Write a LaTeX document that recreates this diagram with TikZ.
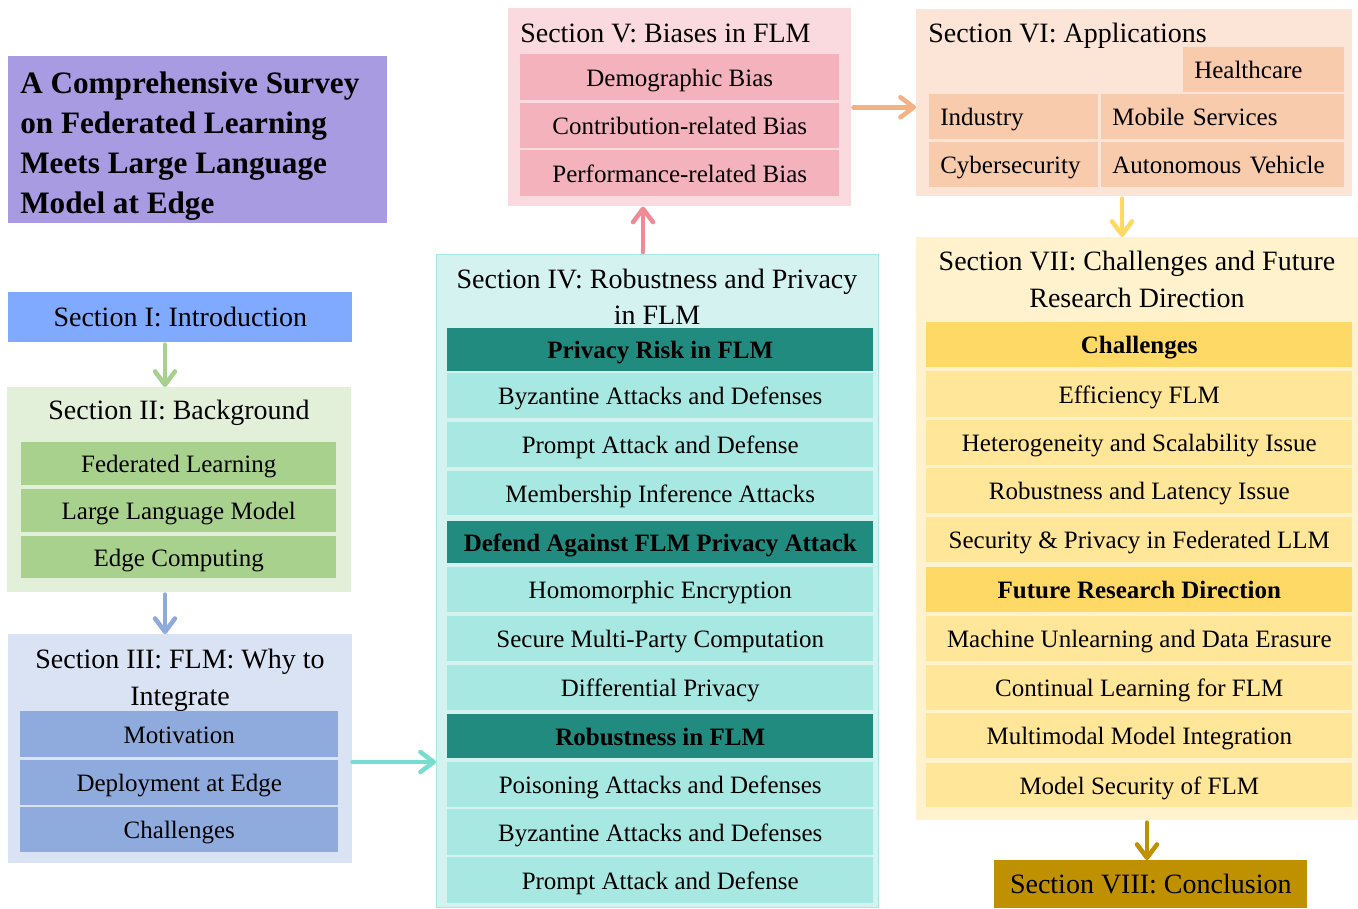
\documentclass[tikz,border=0pt]{standalone}
\usepackage{fontspec}
\setmainfont{Liberation Serif}
\usetikzlibrary{arrows.meta,calc}

\definecolor{titlebg}{RGB}{168,155,225}
\definecolor{s1bg}{RGB}{128,170,255}
\definecolor{s2bg}{RGB}{226,239,217}
\definecolor{s2it}{RGB}{169,209,142}
\definecolor{s3bg}{RGB}{218,227,243}
\definecolor{s3it}{RGB}{143,170,220}
\definecolor{s4bg}{RGB}{212,242,240}
\definecolor{s4it}{RGB}{168,232,226}
\definecolor{s4hd}{RGB}{34,139,128}
\definecolor{s5bg}{RGB}{250,218,222}
\definecolor{s5it}{RGB}{243,178,188}
\definecolor{s6bg}{RGB}{252,228,214}
\definecolor{s6it}{RGB}{248,203,173}
\definecolor{s7bg}{RGB}{255,242,204}
\definecolor{s7it}{RGB}{255,230,153}
\definecolor{s7hd}{RGB}{255,217,102}
\definecolor{s8bg}{RGB}{191,144,0}
\definecolor{arteal}{RGB}{118,221,208}
\definecolor{arpink}{RGB}{238,140,150}
\definecolor{arorange}{RGB}{244,177,131}

% box given by its corners (x1,y1)-(x2,y2), text centred
\newcommand\cell[7]{%
  \node[#6, anchor=north west,
        minimum width={(#4-#2)*0.75pt}, minimum height={(#5-#3)*0.75pt}]
        (#1) at (#2,#3) {#7};}
% box given by its corners, text set flush left
\newcommand\lcell[7]{%
  \node[#6, anchor=north west, align=left, inner xsep=8.25pt,
        text width={(#4-#2)*0.75pt-16.5pt},
        minimum width={(#4-#2)*0.75pt}, minimum height={(#5-#3)*0.75pt}]
        (#1) at (#2,#3) {#7};}

\tikzset{
  panel/.style={inner sep=0pt},
  item/.style={inner sep=0pt, text height=13.5pt, text depth=0pt,
               font=\fontsize{18.75}{22}\selectfont},
  headitem/.style={item, font=\bfseries\fontsize{18.75}{22}\selectfont},
  sectitle/.style={inner sep=0pt, font=\fontsize{21}{25}\selectfont},
  secbox/.style={item, font=\fontsize{21}{25}\selectfont},
  maintitle/.style={inner sep=0pt, anchor=base west,
                    font=\bfseries\fontsize{23.4}{30}\selectfont},
  arr/.style={line width=3.4pt, line cap=round,
              -{Straight Barb[length=10pt,width=15pt,round]}}
}

\begin{document}
\begin{tikzpicture}[x=0.75pt,y=-0.75pt]
\useasboundingbox (0,0) rectangle (1358,908);

% ---- survey title ----
\cell{title}{8}{56}{387}{223}{panel, fill=titlebg}{}
\node[maintitle] (tl1) at (20,93)  {A Comprehensive Survey};
\node[maintitle] (tl2) at (20,133) {on Federated Learning};
\node[maintitle] (tl3) at (20,173) {Meets Large Language};
\node[maintitle] (tl4) at (20,213) {Model at Edge};

% ---- Section I ----
\cell{s1}{8}{292}{352}{342}{secbox, fill=s1bg}{Section I: Introduction}

% ---- Section II ----
\cell{s2}{7}{387}{351}{592}{panel, fill=s2bg}{}
\node[sectitle, anchor=base] (s2t) at (179,419) {Section II: Background};
\cell{s2a}{21}{442}{336}{485}{item, fill=s2it}{Federated Learning}
\cell{s2b}{21}{489}{336}{532}{item, fill=s2it}{Large Language Model}
\cell{s2c}{21}{536}{336}{578}{item, fill=s2it}{Edge Computing}

% ---- Section III ----
\cell{s3}{8}{634}{352}{863}{panel, fill=s3bg}{}
\node[sectitle, anchor=base] (s3t1) at (180,668) {Section III: FLM: Why to};
\node[sectitle, anchor=base] (s3t2) at (180,705) {Integrate};
\cell{s3a}{20}{711}{338}{757}{item, fill=s3it}{Motivation}
\cell{s3b}{20}{760}{338}{805}{item, fill=s3it}{Deployment at Edge}
\cell{s3c}{20}{807}{338}{852}{item, fill=s3it}{Challenges}

% ---- Section IV ----
\cell{s4}{436}{254}{878}{907}{panel, fill=s4bg, draw=s4it, line width=1pt}{}
\node[sectitle, anchor=base] (s4t1) at (657,288) {Section IV: Robustness and Privacy};
\node[sectitle, anchor=base] (s4t2) at (657,324) {in FLM};
\cell{s4h1}{447}{328}{873}{371}{headitem, fill=s4hd}{Privacy Risk in FLM}
\cell{s4a}{447}{373}{873}{418}{item, fill=s4it}{Byzantine Attacks and Defenses}
\cell{s4b}{447}{422}{873}{467}{item, fill=s4it}{Prompt Attack and Defense}
\cell{s4c}{447}{471}{873}{515}{item, fill=s4it}{Membership Inference Attacks}
\cell{s4h2}{447}{521}{873}{563}{headitem, fill=s4hd}{Defend Against FLM Privacy Attack}
\cell{s4d}{447}{567}{873}{612}{item, fill=s4it}{Homomorphic Encryption}
\cell{s4e}{447}{616}{873}{661}{item, fill=s4it}{Secure Multi-Party Computation}
\cell{s4f}{447}{665}{873}{710}{item, fill=s4it}{Differential Privacy}
\cell{s4h3}{447}{714}{873}{758}{headitem, fill=s4hd}{Robustness in FLM}
\cell{s4g}{447}{762}{873}{807}{item, fill=s4it}{Poisoning Attacks and Defenses}
\cell{s4h}{447}{809}{873}{855}{item, fill=s4it}{Byzantine Attacks and Defenses}
\cell{s4i}{447}{857}{873}{903}{item, fill=s4it}{Prompt Attack and Defense}

% ---- Section V ----
\cell{s5}{508}{8}{851}{206}{panel, fill=s5bg}{}
\node[sectitle, anchor=base west] (s5t) at (520,42) {Section V: Biases in FLM};
\cell{s5a}{520}{54}{839}{100}{item, fill=s5it}{Demographic Bias}
\cell{s5b}{520}{103}{839}{148}{item, fill=s5it}{Contribution-related Bias}
\cell{s5c}{520}{150}{839}{196}{item, fill=s5it}{Performance-related Bias}

% ---- Section VI ----
\cell{s6}{916}{9}{1352}{196}{panel, fill=s6bg}{}
\node[sectitle, anchor=base west] (s6t) at (928,42) {Section VI: Applications};
\lcell{s6a}{1183}{47}{1344}{92}{item, fill=s6it}{Healthcare}
\lcell{s6b}{929}{94}{1098}{139}{item, fill=s6it}{Industry}
\lcell{s6c}{1101}{94}{1344}{139}{item, fill=s6it}{Mobile Services}
\lcell{s6d}{929}{142}{1098}{187}{item, fill=s6it}{Cybersecurity}
\lcell{s6e}{1101}{142}{1344}{187}{item, fill=s6it}{Autonomous Vehicle}

% ---- Section VII ----
\cell{s7}{916}{237}{1358}{820}{panel, fill=s7bg}{}
\node[sectitle, anchor=base] (s7t1) at (1137,270) {Section VII: Challenges and Future};
\node[sectitle, anchor=base] (s7t2) at (1137,307) {Research Direction};
\cell{s7h1}{926}{322}{1352}{367}{headitem, fill=s7hd}{Challenges}
\cell{s7a}{926}{371}{1352}{417}{item, fill=s7it}{Efficiency FLM}
\cell{s7b}{926}{420}{1352}{465}{item, fill=s7it}{Heterogeneity and Scalability Issue}
\cell{s7c}{926}{468}{1352}{513}{item, fill=s7it}{Robustness and Latency Issue}
\cell{s7d}{926}{517}{1352}{562}{item, fill=s7it}{Security \& Privacy in Federated LLM}
\cell{s7h2}{926}{567}{1352}{612}{headitem, fill=s7hd}{Future Research Direction}
\cell{s7e}{926}{616}{1352}{661}{item, fill=s7it}{Machine Unlearning and Data Erasure}
\cell{s7f}{926}{665}{1352}{710}{item, fill=s7it}{Continual Learning for FLM}
\cell{s7g}{926}{713}{1352}{758}{item, fill=s7it}{Multimodal Model Integration}
\cell{s7i}{926}{763}{1352}{807}{item, fill=s7it}{Model Security of FLM}

% ---- Section VIII ----
\cell{s8}{994}{860}{1307}{908}{secbox, fill=s8bg}{Section VIII: Conclusion}

% ---- connectors ----
\coordinate (a12) at ($(s1.south west)+(157,2)$);
\draw[arr, draw=s2it] (a12) -- (a12 |- s2.north);
\coordinate (a23) at ($(s2.south west)+(158,2)$);
\draw[arr, draw=s3it] (a23) -- (a23 |- s3.north);
\coordinate (a34) at ($(s3.north east)+(0,128)$);
\draw[arr, draw=arteal] (a34) -- (a34 -| s4.west);
\coordinate (a45) at ($(s4.north west)+(207,-2)$);
\draw[arr, draw=arpink] (a45) -- (a45 |- s5.south);
\draw[arr, draw=arorange] ([xshift=1.5pt]s5.east) -- (s5.east -| s6.west);
\coordinate (a67) at ($(s6.south west)+(206,2)$);
\draw[arr, draw=s7hd] (a67) -- (a67 |- s7.north);
\coordinate (a78) at ($(s7.south west)+(231,2)$);
\draw[arr, draw=s8bg] (a78) -- (a78 |- s8.north);
\end{tikzpicture}
\end{document}
